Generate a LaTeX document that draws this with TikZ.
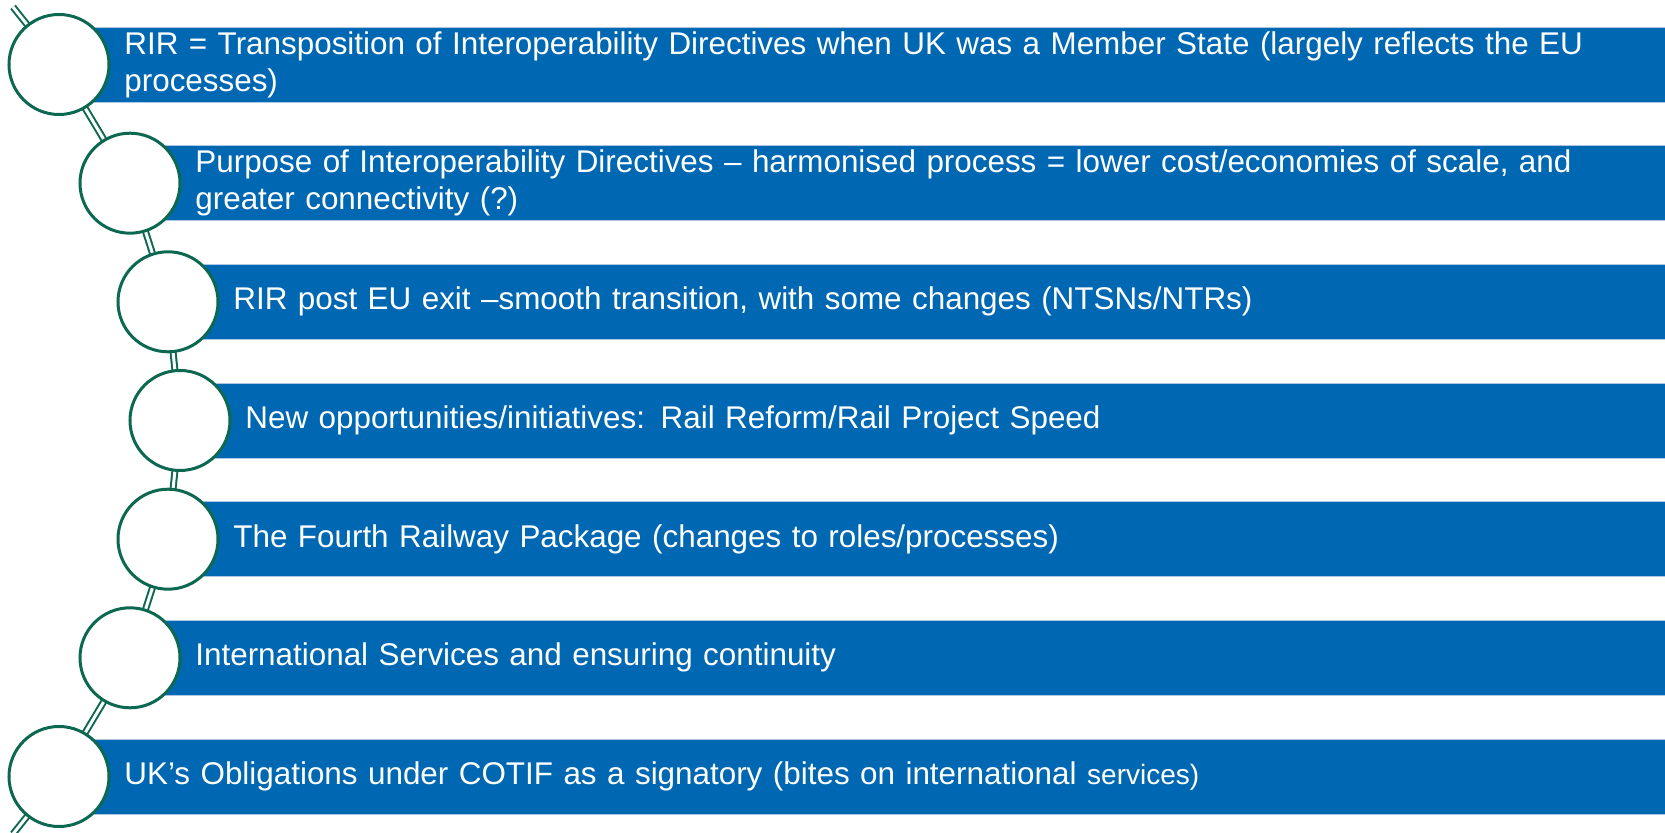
\documentclass[tikz,border=0pt]{standalone}
\usepackage{fontspec}
\setmainfont{Liberation Sans}
\usetikzlibrary{backgrounds}
\definecolor{rrBlue}{RGB}{0,104,178}
\definecolor{rrEdge}{RGB}{170,200,225}
\definecolor{rrGreen}{RGB}{12,104,80}
\tikzset{
    bubble/.style={circle, draw=rrGreen, line width=1.5pt, minimum size=50pt, inner sep=0pt, fill=white},
    band/.style={anchor=west, fill=rrBlue, draw=rrEdge, line width=0.4pt, text=white, minimum height=37.5pt,
                 inner xsep=16pt, inner ysep=0pt, align=left, font=\fontsize{15.7pt}{18.5pt}\selectfont},
    rail/.style={draw=rrGreen, line width=1pt, double=white, double distance=1.5pt}
}

\begin{document}
\begin{tikzpicture}[x=0.5pt,y=-0.5pt]
\useasboundingbox (0,0) rectangle (1665,833);
% bands
\node[band,text width=754.5pt] (b1) at ( 92, 64.5) {RIR = Transposition of Interoperability Directives when UK was a Member State (largely reflects the EU\\processes)};
\node[band,text width=719pt]   (b2) at (163,183.2) {Purpose of Interoperability Directives -- harmonised process = lower cost/economies of scale, and\\greater connectivity (?)};
\node[band,text width=700pt]   (b3) at (201,301.8) {RIR post EU exit --smooth transition, with some changes (NTSNs/NTRs)};
\node[band,text width=694pt]   (b4) at (213,420.5) {New opportunities/initiatives: Rail Reform/Rail Project Speed};
\node[band,text width=700pt]   (b5) at (201,539.2) {The Fourth Railway Package (changes to roles/processes)};
\node[band,text width=719pt]   (b6) at (163,657.8) {International Services and ensuring continuity};
\node[band,text width=754.5pt] (b7) at ( 92,776.5) {UK’s Obligations under COTIF as a signatory (bites on international {\fontsize{14pt}{18.5pt}\selectfont services)}};
% bubbles
\node[bubble] (c1) at ( 59, 64.5) {};
\node[bubble] (c2) at (130,183.2) {};
\node[bubble] (c3) at (168,301.8) {};
\node[bubble] (c4) at (180,420.5) {};
\node[bubble] (c5) at (168,539.2) {};
\node[bubble] (c6) at (130,657.8) {};
\node[bubble] (c7) at ( 59,776.5) {};
\coordinate (railtop) at (13,7);
\coordinate (railend) at (13,834);
\begin{scope}[on background layer]
\draw[rail] (railtop) -- (c1.center) -- (c2.center) -- (c3.center) -- (c4.center)
    -- (c5.center) -- (c6.center) -- (c7.center) -- (railend);
\end{scope}
\end{tikzpicture}
\end{document}
